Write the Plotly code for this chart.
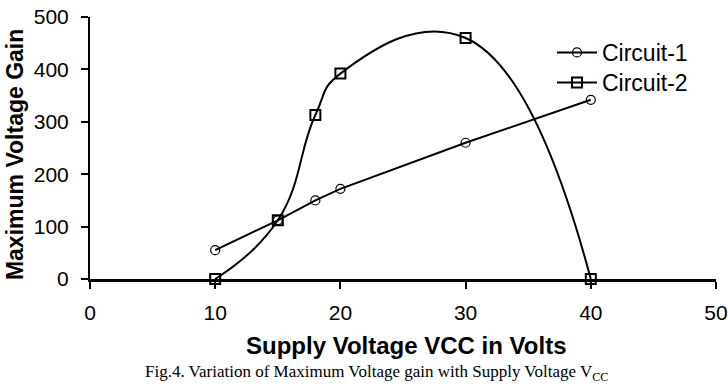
import plotly.graph_objects as go

x1 = [10, 15, 18, 20, 30, 40]
gain1 = [55, 112, 150, 172, 260, 342]
x2 = [10, 15, 18, 20, 30, 40]
gain2 = [0, 112, 313, 392, 460, 0]
xticks = [0, 10, 20, 30, 40, 50]
yticks = [0, 100, 200, 300, 400, 500]

fig = go.Figure()
fig.add_trace(go.Scatter(
    x=x1, y=gain1, mode="lines+markers", name="Circuit-1", legend="legend",
    line=dict(color="black", width=2),
    marker=dict(symbol="circle-open", size=9, color="black", line=dict(width=1.2)),
    cliponaxis=False,
))
fig.add_trace(go.Scatter(
    x=x2, y=gain2, mode="lines+markers", name="Circuit-2", legend="legend2",
    line=dict(color="black", width=2, shape="spline", smoothing=1.3),
    marker=dict(symbol="square-open", size=10, color="black", line=dict(width=2)),
    cliponaxis=False,
))

leg_common = dict(xanchor="left", yanchor="top",
                  font=dict(size=23, family="Liberation Sans, Arial"),
                  bgcolor="rgba(0,0,0,0)", itemwidth=40)

fig.update_layout(
    width=728, height=390,
    margin=dict(l=90, r=12, t=17, b=111, autoexpand=False),
    paper_bgcolor="white", plot_bgcolor="white",
    font=dict(family="Liberation Sans, Arial", color="black", size=21),
    showlegend=True,
    legend=dict(x=0.738, y=0.9466, **leg_common),
    legend2=dict(x=0.738, y=0.832, **leg_common),
    xaxis=dict(range=[0, 50], tickvals=xticks, showgrid=False, zeroline=False,
               showline=True, linecolor="black", linewidth=3, automargin=False,
               ticks="outside", ticklen=7, tickwidth=2, tickcolor="black",
               tickfont=dict(size=21), ticklabelstandoff=6, ticklabeloverflow="allow"),
    yaxis=dict(range=[0, 500], tickvals=yticks, showgrid=False, zeroline=False,
               showline=True, linecolor="black", linewidth=2, automargin=False,
               ticks="outside", ticklen=7, tickwidth=2, tickcolor="black",
               tickfont=dict(size=21), ticklabelstandoff=8, ticklabeloverflow="allow"),
)
fig.add_annotation(text="<b>Supply Voltage VCC in Volts</b>", xref="paper", yref="paper",
                   x=0.505, y=-0.255, xanchor="center", yanchor="middle", showarrow=False,
                   font=dict(size=24, family="Liberation Sans, Arial"))
fig.add_annotation(text="<b>Maximum Voltage Gain</b>", xref="paper", yref="paper",
                   x=-0.1198, y=0.473, xanchor="center", yanchor="middle", showarrow=False,
                   textangle=-90, font=dict(size=23, family="Liberation Sans, Arial"))
fig.add_annotation(text="Fig.4. Variation of Maximum Voltage gain with Supply Voltage V<sub>CC</sub>",
                   xref="paper", yref="paper", x=0.458, y=-0.359, xanchor="center", yanchor="middle",
                   showarrow=False, font=dict(size=17, family="Liberation Serif, Times New Roman"))
fig.write_html("out.html", config={"displayModeBar": False},
               post_script="document.body.style.margin='0px';")
